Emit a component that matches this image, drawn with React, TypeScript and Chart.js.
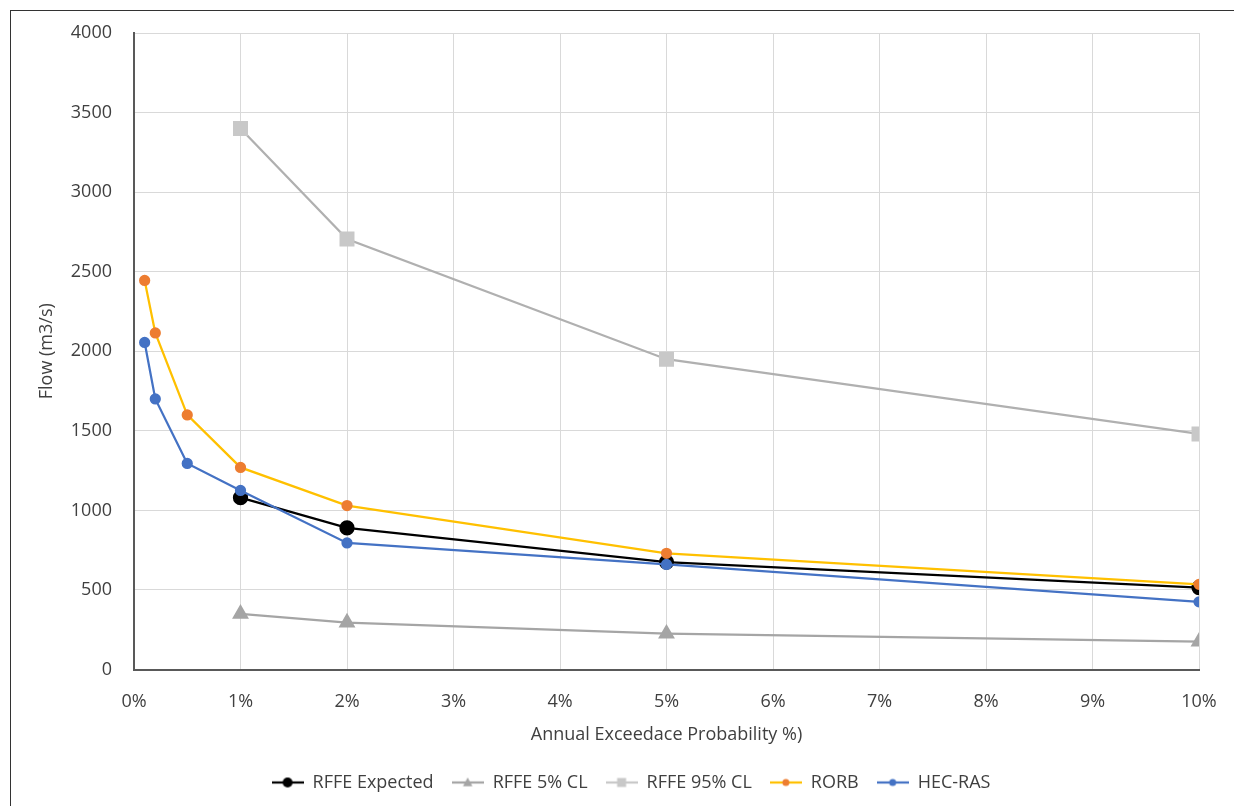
import React, { useEffect, useRef } from "react";
import { Chart, registerables } from "chart.js";

Chart.register(...registerables);

// AEP (%) positions
const aepShort = [1, 2, 5, 10];
const aepFull = [0.1, 0.2, 0.5, 1, 2, 5, 10];

// Flow values (m3/s)
const rffeExpected = [1080, 890, 675, 515];
const rffe5 = [350, 295, 225, 175];
const rffe95 = [3400, 2705, 1950, 1480];
const rorb = [2445, 2115, 1600, 1270, 1030, 730, 535];
const hecRas = [2055, 1700, 1295, 1125, 795, 660, 425];

const seriesNames = ["RFFE Expected", "RFFE 5% CL", "RFFE 95% CL", "RORB", "HEC-RAS"];

const xMin = 0;
const xMax = 10;
const xStep = 1;
const yMin = 0;
const yMax = 4000;
const yStep = 500;

const FONT = "'Open Sans', 'Noto Sans', sans-serif";
const TEXT = "#404040";

function pts(xs: number[], ys: number[]) {
  return xs.map((x, i) => ({ x, y: ys[i] }));
}

function makeIcon(lineColor: string, markerColor: string, shape: string, size: number) {
  const c = document.createElement("canvas");
  c.width = 32;
  c.height = 18;
  const ctx = c.getContext("2d")!;
  ctx.strokeStyle = lineColor;
  ctx.lineWidth = 2.25;
  ctx.beginPath();
  ctx.moveTo(0, 9);
  ctx.lineTo(32, 9);
  ctx.stroke();
  ctx.fillStyle = markerColor;
  ctx.beginPath();
  if (shape === "circle") {
    ctx.arc(16, 9, size, 0, Math.PI * 2);
  } else if (shape === "triangle") {
    ctx.moveTo(16, 9 - size);
    ctx.lineTo(16 + size * 0.95, 9 + size * 0.75);
    ctx.lineTo(16 - size * 0.95, 9 + size * 0.75);
    ctx.closePath();
  } else {
    ctx.rect(16 - size, 9 - size, size * 2, size * 2);
  }
  ctx.fill();
  return c;
}

export default function App() {
  const ref = useRef<HTMLCanvasElement | null>(null);

  useEffect(() => {
    if (!ref.current) return;
    const icons = [
      makeIcon("#000000", "#000000", "circle", 5),
      makeIcon("#a5a5a5", "#a5a5a5", "triangle", 5),
      makeIcon("#c8c8c8", "#c8c8c8", "rect", 4.5),
      makeIcon("#ffc000", "#ed7d31", "circle", 3.5),
      makeIcon("#4472c4", "#4472c4", "circle", 3.5),
    ];
    const chart = new Chart(ref.current, {
      type: "line",
      data: {
        datasets: [
          {
            label: seriesNames[0],
            data: pts(aepShort, rffeExpected),
            borderColor: "#000000",
            backgroundColor: "#000000",
            pointBackgroundColor: "#000000",
            pointBorderColor: "#000000",
            pointStyle: "circle",
            pointRadius: 6.5,
            borderWidth: 2.25,
            order: 5,
          },
          {
            label: seriesNames[1],
            data: pts(aepShort, rffe5),
            borderColor: "#a5a5a5",
            backgroundColor: "#a5a5a5",
            pointBackgroundColor: "#a5a5a5",
            pointBorderColor: "#a5a5a5",
            pointStyle: "triangle",
            pointRadius: 7.5,
            borderWidth: 2.25,
            order: 4,
          },
          {
            label: seriesNames[2],
            data: pts(aepShort, rffe95),
            borderColor: "#b0b0b0",
            backgroundColor: "#c8c8c8",
            pointBackgroundColor: "#c8c8c8",
            pointBorderColor: "#c8c8c8",
            pointStyle: "rect",
            pointRadius: 9,
            borderWidth: 2.25,
            order: 3,
          },
          {
            label: seriesNames[3],
            data: pts(aepFull, rorb),
            borderColor: "#ffc000",
            backgroundColor: "#ed7d31",
            pointBackgroundColor: "#ed7d31",
            pointBorderColor: "#ed7d31",
            pointStyle: "circle",
            pointRadius: 4.5,
            borderWidth: 2.25,
            order: 2,
          },
          {
            label: seriesNames[4],
            data: pts(aepFull, hecRas),
            borderColor: "#4472c4",
            backgroundColor: "#4472c4",
            pointBackgroundColor: "#4472c4",
            pointBorderColor: "#4472c4",
            pointStyle: "circle",
            pointRadius: 4.5,
            borderWidth: 2.25,
            order: 1,
          },
        ],
      },
      options: {
        responsive: false,
        animation: false,
        events: [],
        layout: { padding: { left: 63, right: 35, top: 33, bottom: 4.5 } },
        plugins: {
          tooltip: { enabled: false },
          legend: {
            position: "bottom",
            labels: {
              usePointStyle: true,
              pointStyleWidth: 32,
              padding: 18,
              color: TEXT,
              font: { family: FONT, size: 18 },
              generateLabels: (ch: any) =>
                ch.data.datasets.map((ds: any, i: number) => ({
                  text: ds.label,
                  pointStyle: icons[i],
                  datasetIndex: i,
                  fillStyle: ds.backgroundColor,
                  strokeStyle: ds.borderColor,
                  lineWidth: 0,
                  hidden: false,
                  fontColor: TEXT,
                })),
            },
          },
        },
        scales: {
          x: {
            type: "linear",
            min: xMin,
            max: xMax,
            afterFit: (s: any) => {
              s.height = 86;
              s.paddingRight = 0;
              s.paddingLeft = 0;
            },
            ticks: {
              stepSize: xStep,
              padding: 22,
              color: TEXT,
              font: { family: FONT, size: 18 },
              callback: (v: any) => `${v}%`,
            },
            grid: { color: "#d9d9d9", lineWidth: 1, drawTicks: false },
            border: { color: "#595959", width: 2 },
            title: {
              display: true,
              text: "Annual Exceedace Probability %)",
              color: TEXT,
              font: { family: FONT, size: 18 },
              padding: { top: 0, bottom: 9.5 },
            },
          },
          y: {
            type: "linear",
            min: yMin,
            max: yMax,
            afterFit: (s: any) => {
              s.width = 71;
            },
            ticks: {
              stepSize: yStep,
              padding: 22,
              color: TEXT,
              font: { family: FONT, size: 18 },
              callback: (v: any) => String(v),
            },
            grid: { color: "#d9d9d9", lineWidth: 1, drawTicks: false },
            border: { color: "#595959", width: 2 },
            title: {
              display: true,
              text: "Flow (m3/s)",
              color: TEXT,
              font: { family: FONT, size: 18 },
              padding: { top: -26.8, bottom: 0 },
            },
          },
        },
      },
    });
    return () => chart.destroy();
  }, []);

  return (
    <div style={{ position: "fixed", left: 0, top: 0, width: 1234, height: 806, background: "#fff", overflow: "hidden" }}>
      <canvas ref={ref} width={1234} height={806} style={{ position: "absolute", left: 0, top: 0, width: 1234, height: 806 }} />
      <div
        style={{
          position: "absolute",
          left: 10,
          top: 10,
          width: 1230,
          height: 800,
          borderLeft: "1.5px solid #333",
          borderTop: "1.5px solid #333",
          pointerEvents: "none",
        }}
      />
    </div>
  );
}
